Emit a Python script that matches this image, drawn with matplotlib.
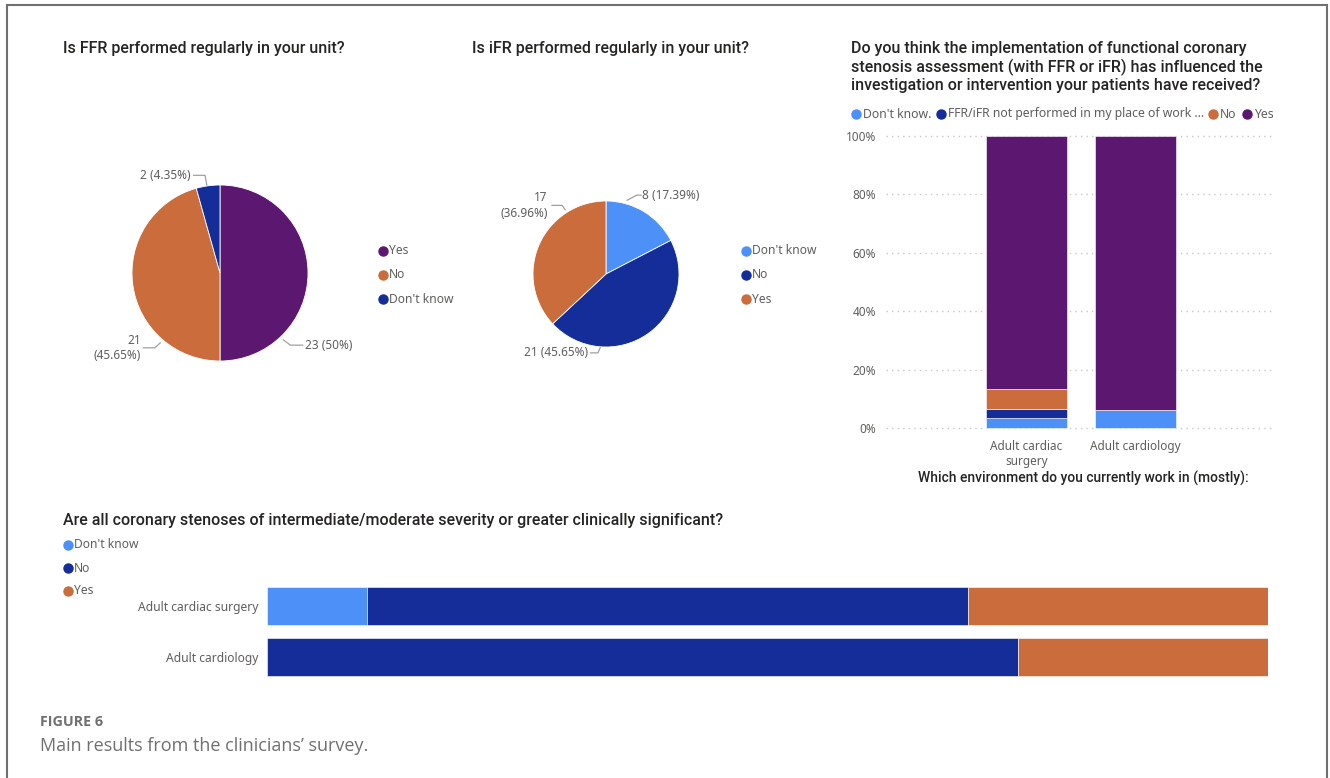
import numpy as np
import matplotlib.pyplot as plt
from matplotlib.lines import Line2D

# data
ffr_labels = ["Yes", "No", "Don't know"]
ffr_counts = [23, 21, 2]
ifr_labels = ["Don't know", "No", "Yes"]
ifr_counts = [8, 21, 17]

env_cats = ["Adult cardiac\nsurgery", "Adult cardiology"]
infl_series = ["Don't know.", "FFR/iFR not performed in my place of work ...", "No", "Yes"]
infl_pct = {
    "Don't know.": [3.33, 6.25],
    "FFR/iFR not performed in my place of work ...": [3.33, 0.0],
    "No": [6.67, 0.0],
    "Yes": [86.67, 93.75],
}

sten_cats = ["Adult cardiac surgery", "Adult cardiology"]
sten_series = ["Don't know", "No", "Yes"]
sten_pct = {
    "Don't know": [10, 0],
    "No": [60, 75],
    "Yes": [30, 25],
}

purple = "#5C1771"
orange = "#CB6C3C"
navy = "#152D99"
light = "#4D90F8"
txt = "#605E5C"
dark = "#252423"

W, H = 1330, 778
fig = plt.figure(figsize=(W / 100, H / 100), dpi=100)
fig.patch.set_facecolor("white")

def fx(x):
    return x / W

def fy(y):
    return 1 - y / H

def box(x0, y0, x1, y1):
    return [fx(x0), fy(y1), fx(x1) - fx(x0), fy(y0) - fy(y1)]

lab_font = "Noto Sans"
title_font = "Roboto"
tsize = 11.5

# frame
for xs, ys in [([7, 7], [5, 778]), ([7, 1327], [5, 5]), ([1327, 1327], [5, 778])]:
    fig.add_artist(Line2D([fx(v) for v in xs], [fy(v) for v in ys], color="#707070", lw=1.5))

def legend_items(x, ys, labels, colors, size=8.7):
    for y, l, c in zip(ys, labels, colors):
        fig.add_artist(Line2D([fx(x)], [fy(y)], marker="o", ms=6.5, color=c, mec=c))
        fig.text(fx(x + 6), fy(y), l, fontsize=size, color=txt, family=lab_font, va="center", ha="left")

def pie_panel(cx, cy, r, counts, colors, labels_pos):
    s = r * 1.6
    ax = fig.add_axes(box(cx - s, cy - s, cx + s, cy + s))
    ax.pie(counts, colors=colors, startangle=90, counterclock=False, radius=1,
           wedgeprops=dict(edgecolor="white", linewidth=0.6))
    ax.set_xlim(-1.6, 1.6)
    ax.set_ylim(-1.6, 1.6)
    ax.axis("off")
    for text, pts, tx, ha in labels_pos:
        xs = [p[0] for p in pts]
        ys = [p[1] for p in pts]
        ax.plot(xs, ys, color="#A0A0A0", lw=0.9, clip_on=False)
        ax.text(tx[0], tx[1], text, fontsize=8.5, color=txt, family=lab_font,
                ha=ha, va="center", linespacing=1.25)
    return ax

# pie 1
fig.text(fx(63), fy(49), "Is FFR performed regularly in your unit?", fontsize=tsize,
         family=title_font, weight="medium", color=dark, va="center")
pie_panel(220, 273, 88, ffr_counts, [purple, orange, navy], [
    ("23 (50%)", [(0.72, -0.76), (0.80, -0.82), (0.94, -0.82)], (0.97, -0.82), "left"),
    ("21\n(45.65%)", [(-0.68, -0.795), (-0.74, -0.85), (-0.87, -0.85)], (-0.90, -0.85), "right"),
    ("2 (4.35%)", [(-0.15, 1.0), (-0.17, 1.11), (-0.30, 1.11)], (-0.33, 1.11), "right"),
])
legend_items(383, [251, 275, 299], ffr_labels, [purple, orange, navy])

# pie 2
fig.text(fx(472), fy(49), "Is iFR performed regularly in your unit?", fontsize=tsize,
         family=title_font, weight="medium", color=dark, va="center")
pie_panel(606, 274, 73, ifr_counts, [light, navy, orange], [
    ("8 (17.39%)", [(0.29, 1.01), (0.42, 1.08), (0.48, 1.08)], (0.50, 1.08), "left"),
    ("17\n(36.96%)", [(-0.56, 0.88), (-0.60, 0.94), (-0.74, 0.94)], (-0.80, 0.94), "right"),
    ("21 (45.65%)", [(-0.08, -1.01), (-0.11, -1.08), (-0.21, -1.08)], (-0.25, -1.08), "right"),
])
legend_items(746, [251, 275, 299], ifr_labels, [light, navy, orange])

# stacked column chart
fig.text(fx(851), fy(67), "Do you think the implementation of functional coronary\n"
         "stenosis assessment (with FFR or iFR) has influenced the\n"
         "investigation or intervention your patients have received?",
         fontsize=tsize, family=title_font, weight="medium", color=dark, va="center", linespacing=1.2)
leg_x = [856, 941, 1213, 1247]
for x, l, c in zip(leg_x, infl_series, [light, navy, orange, purple]):
    fig.add_artist(Line2D([fx(x)], [fy(114)], marker="o", ms=6.5, color=c, mec=c))
    fig.text(fx(x + 7), fy(114), l, fontsize=8.8, color=txt, family=lab_font, va="center")

ax3 = fig.add_axes(box(886, 130, 1275, 430))
xpos = np.arange(len(env_cats))
bottom = np.zeros(len(env_cats))
for name, c in zip(infl_series, [light, navy, orange, purple]):
    vals = np.array(infl_pct[name])
    ax3.bar(xpos, vals, 0.745, bottom=bottom, color=c, edgecolor="white", linewidth=0.4)
    bottom += vals
ax3.set_xlim(-1.29, 2.28)
ax3.set_ylim(-0.7, 102.05)
ax3.set_yticks([0, 20, 40, 60, 80, 100])
ax3.set_yticklabels(["0%", "20%", "40%", "60%", "80%", "100%"])
ax3.set_xticks(xpos)
ax3.set_xticklabels(env_cats, multialignment="center")
ax3.tick_params(length=0, labelsize=8.5, labelcolor=txt, pad=7)
for lab in ax3.get_xticklabels() + ax3.get_yticklabels():
    lab.set_family(lab_font)
ax3.yaxis.grid(True, linestyle=(0, (1, 3)), color="#C8C8C8", lw=1)
ax3.set_axisbelow(True)
for sp in ax3.spines.values():
    sp.set_visible(False)
fig.text(fx(1083), fy(478), "Which environment do you currently work in (mostly):",
         fontsize=10, family=title_font, weight="medium", color=dark, ha="center", va="center")

# horizontal stacked bars
fig.text(fx(63), fy(521), "Are all coronary stenoses of intermediate/moderate severity or greater clinically significant?",
         fontsize=tsize, family=title_font, weight="medium", color=dark, va="center")
legend_items(68, [545, 568, 591], sten_series, [light, navy, orange])

ax4 = fig.add_axes(box(267, 580, 1268, 683))
ypos = np.arange(len(sten_cats))
left = np.zeros(len(sten_cats))
for name, c in zip(sten_series, [light, navy, orange]):
    vals = np.array(sten_pct[name])
    ax4.barh(ypos, vals, 0.745, left=left, color=c, edgecolor="white", linewidth=0.4)
    left += vals
ax4.set_xlim(0, 100)
ax4.set_ylim(1.51, -0.51)
ax4.set_yticks(ypos)
ax4.set_yticklabels(sten_cats)
ax4.set_xticks([])
ax4.tick_params(length=0, labelsize=8.7, labelcolor=txt, pad=6)
for lab in ax4.get_yticklabels():
    lab.set_family(lab_font)
for sp in ax4.spines.values():
    sp.set_visible(False)

# caption
fig.text(fx(40), fy(722), "FIGURE 6", fontsize=10.3, family="Open Sans", weight="bold", color="#707070", va="center")
fig.text(fx(40), fy(746), "Main results from the clinicians\u2019 survey.", fontsize=13, family="Open Sans",
         color="#707070", va="center")

fig.savefig("out.png", dpi=100)
